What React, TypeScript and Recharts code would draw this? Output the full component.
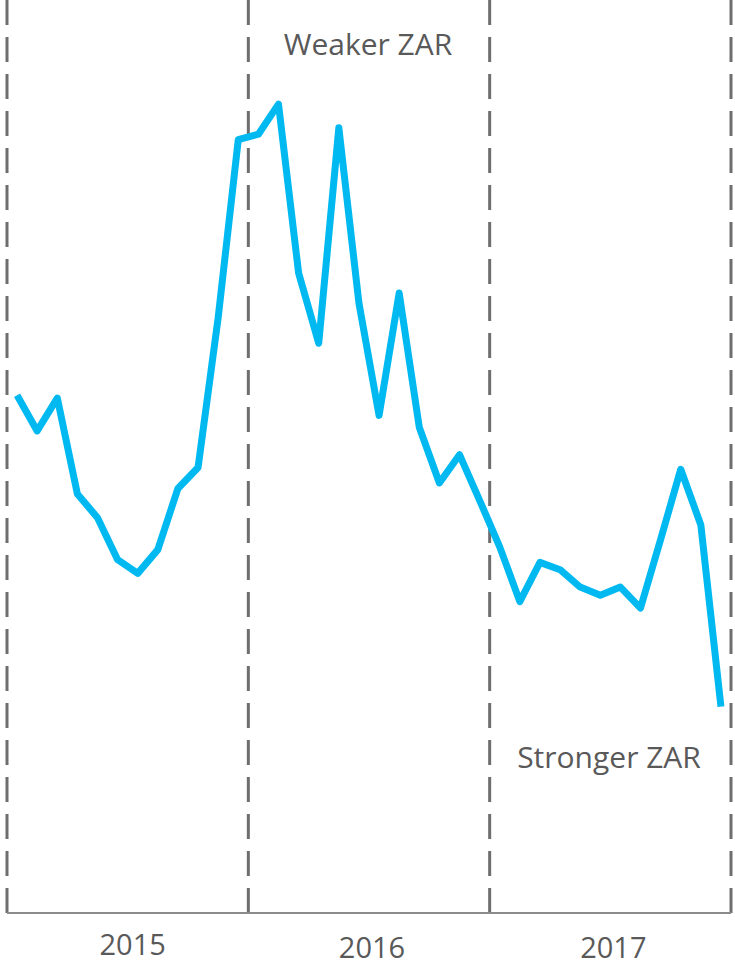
import { LineChart, Line, XAxis, YAxis, ReferenceLine } from 'recharts';

// monthly index, Jan 2015 .. Dec 2017 (higher = weaker ZAR)
const months = [
  'Jan 15', 'Feb 15', 'Mar 15', 'Apr 15', 'May 15', 'Jun 15', 'Jul 15', 'Aug 15', 'Sep 15', 'Oct 15', 'Nov 15', 'Dec 15',
  'Jan 16', 'Feb 16', 'Mar 16', 'Apr 16', 'May 16', 'Jun 16', 'Jul 16', 'Aug 16', 'Sep 16', 'Oct 16', 'Nov 16', 'Dec 16',
  'Jan 17', 'Feb 17', 'Mar 17', 'Apr 17', 'May 17', 'Jun 17', 'Jul 17', 'Aug 17', 'Sep 17', 'Oct 17', 'Nov 17', 'Dec 17',
];

const indexValues = [
  56.7, 52.8, 56.4, 45.9, 43.3, 38.7, 37.2, 39.8, 46.5, 48.8, 65.2, 84.7,
  85.3, 88.6, 70.1, 62.4, 86.0, 66.8, 54.5, 67.9, 53.2, 47.1, 50.2, 45.2,
  40.1, 34.1, 38.4, 37.6, 35.7, 34.8, 35.7, 33.4, 40.9, 48.6, 42.5, 22.6,
];

const years = ['2015', '2016', '2017'];
const yearBounds = [0, 12, 24, 36];
const yearTicks = [6, 18, 30];

const data = months.map((m, i) => ({ x: i + 0.5, month: m, value: indexValues[i] }));

const YearTick = (props: any) => {
  const { x, y, payload } = props;
  const idx = yearTicks.indexOf(payload.value);
  const dx = idx === 0 ? 5 : 3;
  const dy = idx === 0 ? 0 : 3;
  return (
    <text
      x={x + dx}
      y={y + 34 + dy}
      textAnchor="middle"
      fill="#595959"
      fontSize={29}
      fontFamily="'Open Sans', sans-serif"
    >
      {years[idx]}
    </text>
  );
};

const labelStyle: React.CSSProperties = {
  position: 'absolute',
  fontFamily: "'Open Sans', sans-serif",
  fontSize: 30,
  color: '#595959',
  whiteSpace: 'nowrap',
  transform: 'translateX(-50%)',
  lineHeight: '34px',
};

export default function App() {
  return (
    <div style={{ position: 'absolute', left: 0, top: 0, width: 735, height: 966, background: '#fff' }}>
      <LineChart
        width={735}
        height={966}
        data={data}
        margin={{ top: 0, right: 4, left: 7, bottom: 0 }}
      >
        <XAxis
          dataKey="x"
          type="number"
          domain={[0, 36]}
          ticks={yearTicks}
          tick={<YearTick />}
          tickLine={false}
          axisLine={{ stroke: '#8c8c8c', strokeWidth: 2 }}
          height={53}
          interval={0}
        />
        <YAxis hide domain={[0, 100]} />
        {yearBounds.map((b) => (
          <ReferenceLine
            key={b}
            x={b}
            stroke="#6e6e6e"
            strokeWidth={3}
            strokeDasharray="25 12"
            ifOverflow="visible"
          />
        ))}
        <Line
          type="linear"
          dataKey="value"
          stroke="#00b9f1"
          strokeWidth={7}
          strokeLinejoin="round"
          dot={false}
          activeDot={false}
          isAnimationActive={false}
        />
      </LineChart>
      <div style={{ ...labelStyle, left: 368, top: 27 }}>Weaker ZAR</div>
      <div style={{ ...labelStyle, left: 609, top: 740 }}>Stronger ZAR</div>
    </div>
  );
}
